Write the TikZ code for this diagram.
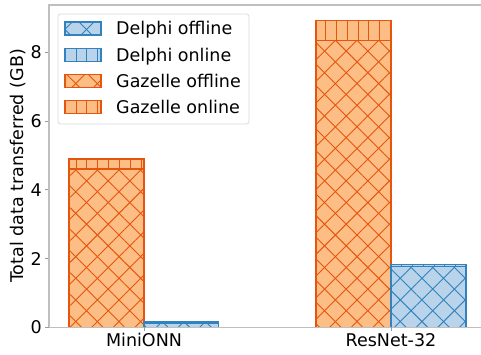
\documentclass[tikz,border=0pt]{standalone}
\usepackage{fontspec}
\setmainfont{DejaVu Sans}
\usetikzlibrary{patterns.meta}

\definecolor{delphiedge}{HTML}{3182BD}
\definecolor{delphifill}{HTML}{B9D4EA}
\definecolor{gazelleedge}{HTML}{E6550D}
\definecolor{gazellefill}{HTML}{FDBE85}

\tikzset{
  offline/.style={
    postaction={pattern={Lines[angle=45,distance=15.3pt,line width=0.9pt]}, pattern color=#1},
    postaction={pattern={Lines[angle=-45,distance=15.3pt,line width=0.9pt]}, pattern color=#1}},
  online/.style={
    postaction={pattern={Lines[angle=90,distance=10.85pt,line width=0.9pt]}, pattern color=#1}},
  delphi/.style={fill=delphifill, draw=delphiedge, line width=1.5pt},
  gazelle/.style={fill=gazellefill, draw=gazelleedge, line width=1.5pt},
  spine/.style={draw=gray!50, line width=1.2pt},
  tick/.style={draw=gray!80, line width=1pt},
  lbl/.style={font=\fontsize{17.5}{21}\selectfont, inner sep=0pt}
}

\begin{document}
\begin{tikzpicture}[x=1pt, y=1pt]
    \useasboundingbox (0,0) rectangle (481,354);

    % bars, in data units
    \begin{scope}[yshift=26.7pt, y=34.37pt]
        \draw[gazelle, offline=gazelleedge] (69,0) rectangle (144,4.60);
        \draw[gazelle, online=gazelleedge] (69,4.60) rectangle (144,4.90);
        \draw[delphi, offline=delphiedge] (144,0) rectangle (218.5,0.11);
        \draw[delphi, online=delphiedge] (144,0.11) rectangle (218.5,0.155);
        \draw[gazelle, offline=gazelleedge] (316,0) rectangle (391,8.35);
        \draw[gazelle, online=gazelleedge] (316,8.35) rectangle (391,8.92);
        \draw[delphi, offline=delphiedge] (391,0) rectangle (466,1.77);
        \draw[delphi, online=delphiedge] (391,1.77) rectangle (466,1.83);
        \foreach \v in {0,2,...,8} {
            \draw[tick] (45,\v) -- (49,\v);
            \node[lbl, anchor=east] (ytick\v) at (42,\v) {\v};
        }
    \end{scope}

    % axes
    \draw[spine] (49,26.7) -- (49,349) -- (481,349);
    \draw[spine] (49,26.7) -- (481,26.7);
    \draw[tick] (144,26.7) -- (144,22.7);
    \draw[tick] (391,26.7) -- (391,22.7);
    \node[lbl, anchor=base] (minionn) at (144,7.3) {MiniONN};
    \node[lbl, anchor=base] (resnet) at (391,7.3) {ResNet-32};
    \node[lbl, rotate=90] (ylabel) at (18,188) {Total data transferred (GB)};

    % legend
    \draw[draw=gray!30, fill=white, rounded corners=2.5pt, line width=0.8pt] (58,230) rectangle (249,340);
    \draw[delphi, offline=delphiedge] (65,319) rectangle (101,332);
    \draw[delphi, online=delphiedge] (65,292.5) rectangle (101,305.5);
    \draw[gazelle, offline=gazelleedge] (65,266.5) rectangle (101,279.5);
    \draw[gazelle, online=gazelleedge] (65,240.5) rectangle (101,253.5);
    \node[lbl, anchor=base west] (delphioff) at (116,319.2) {Delphi offline};
    \node[lbl, anchor=base west] (delphion) at (116,292.7) {Delphi online};
    \node[lbl, anchor=base west] (gazelleoff) at (116,266.7) {Gazelle offline};
    \node[lbl, anchor=base west] (gazelleon) at (116,240.7) {Gazelle online};
\end{tikzpicture}
\end{document}
